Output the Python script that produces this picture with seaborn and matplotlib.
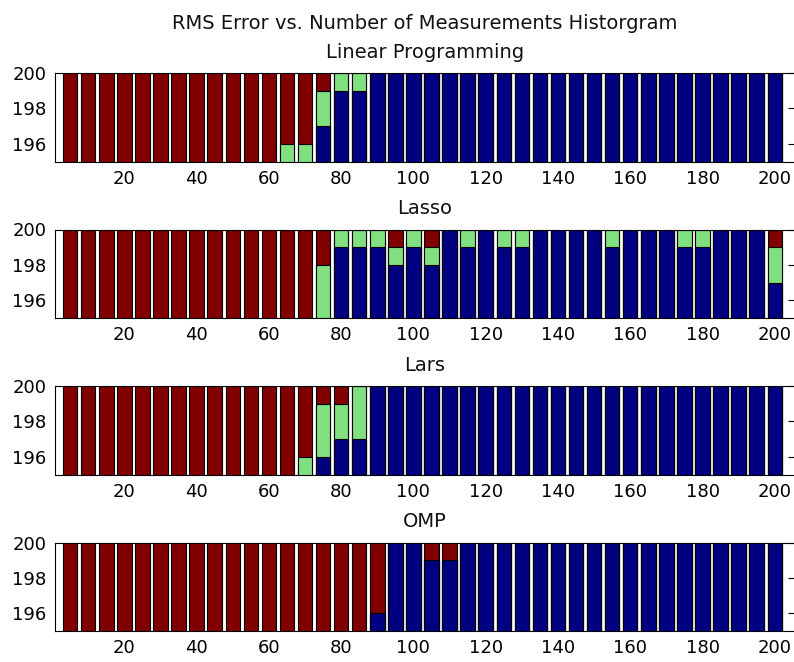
import numpy as np
import matplotlib
matplotlib.use("Agg")
import matplotlib.pyplot as plt
import seaborn as sns

# Number of measurements (bar positions)
measurements = list(range(5, 205, 5))

# Per-method counts of trials in each RMS error class (low / medium / high)
lp_low = [0, 0, 0, 0, 0, 0, 0, 0, 0, 0, 0, 0, 0, 0, 197, 199, 199,
          200, 200, 200, 200, 200, 200, 200, 200, 200, 200, 200, 200,
          200, 200, 200, 200, 200, 200, 200, 200, 200, 200, 200]
lp_mid = [0, 0, 0, 0, 0, 0, 0, 0, 0, 0, 0, 0, 196, 196, 2, 1, 1,
          0, 0, 0, 0, 0, 0, 0, 0, 0, 0, 0, 0,
          0, 0, 0, 0, 0, 0, 0, 0, 0, 0, 0]
lp_high = [200, 200, 200, 200, 200, 200, 200, 200, 200, 200, 200, 200, 4, 4, 1, 0, 0,
           0, 0, 0, 0, 0, 0, 0, 0, 0, 0, 0, 0,
           0, 0, 0, 0, 0, 0, 0, 0, 0, 0, 0]

lasso_low = [0, 0, 0, 0, 0, 0, 0, 0, 0, 0, 0, 0, 0, 0, 0, 199, 199, 199, 198, 199,
             198, 200, 199, 200, 199, 199, 200, 200, 200, 200, 199, 200,
             200, 200, 199, 199, 200, 200, 200, 197]
lasso_mid = [0, 0, 0, 0, 0, 0, 0, 0, 0, 0, 0, 0, 0, 0, 198, 1, 1, 1, 1, 1,
             1, 0, 1, 0, 1, 1, 0, 0, 0, 0, 1, 0,
             0, 0, 1, 1, 0, 0, 0, 2]
lasso_high = [200, 200, 200, 200, 200, 200, 200, 200, 200, 200, 200, 200, 200, 200, 2, 0, 0, 0, 1, 0,
              1, 0, 0, 0, 0, 0, 0, 0, 0, 0, 0, 0,
              0, 0, 0, 0, 0, 0, 0, 1]

lars_low = [0, 0, 0, 0, 0, 0, 0, 0, 0, 0, 0, 0, 0, 0, 196, 197, 197,
            200, 200, 200, 200, 200, 200, 200, 200, 200, 200, 200, 200,
            200, 200, 200, 200, 200, 200, 200, 200, 200, 200, 200]
lars_mid = [0, 0, 0, 0, 0, 0, 0, 0, 0, 0, 0, 0, 0, 196, 3, 2, 3,
            0, 0, 0, 0, 0, 0, 0, 0, 0, 0, 0, 0,
            0, 0, 0, 0, 0, 0, 0, 0, 0, 0, 0]
lars_high = [200, 200, 200, 200, 200, 200, 200, 200, 200, 200, 200, 200, 200, 4, 1, 1, 0,
             0, 0, 0, 0, 0, 0, 0, 0, 0, 0, 0, 0,
             0, 0, 0, 0, 0, 0, 0, 0, 0, 0, 0]

omp_low = [0, 0, 0, 0, 0, 0, 0, 0, 0, 0, 0, 0, 0, 0, 0, 0, 0, 196,
           200, 200, 199, 199, 200, 200, 200, 200, 200, 200, 200, 200,
           200, 200, 200, 200, 200, 200, 200, 200, 200, 200]
omp_mid = [0] * 40
omp_high = [200, 200, 200, 200, 200, 200, 200, 200, 200, 200, 200, 200, 200, 200, 200, 200, 200, 4,
            0, 0, 1, 1, 0, 0, 0, 0, 0, 0, 0, 0,
            0, 0, 0, 0, 0, 0, 0, 0, 0, 0]

titles = ["RMS Error vs. Number of Measurements Historgram\nLinear Programming",
          "Lasso", "Lars", "OMP"]
methods = [(lp_low, lp_mid, lp_high), (lasso_low, lasso_mid, lasso_high),
           (lars_low, lars_mid, lars_high), (omp_low, omp_mid, omp_high)]

x_ticks = [20, 40, 60, 80, 100, 120, 140, 160, 180, 200]
y_ticks = [196, 198, 200]

col_low = "#000080"
col_mid = "#80E080"
col_high = "#800000"

sns.set_style("white")
plt.rcParams["font.family"] = ["DejaVu Sans"]

W, H = 794, 662
fig = plt.figure(figsize=(W / 100, H / 100), dpi=100)

left_px, width_px, height_px = 55, 740, 88.5
tops_px = [73, 229.5, 386, 542.5]

for top, title, (low, mid, high) in zip(tops_px, titles, methods):
    ax = fig.add_axes([left_px / W, 1 - (top + height_px) / H, width_px / W, height_px / H])
    low = np.array(low)
    mid = np.array(mid)
    high = np.array(high)
    # stacked segments: draw cumulative totals from the top down
    for heights, col in [(low + mid + high, col_high), (low + mid, col_mid), (low, col_low)]:
        sns.barplot(x=measurements, y=heights, native_scale=True, color=col,
                    saturation=1, width=0.8, edgecolor="black", linewidth=0.8,
                    errorbar=None, ax=ax)
    ax.set_xlim(0.8, 205.6)
    ax.set_ylim(195, 200)
    ax.set_xticks(x_ticks)
    ax.set_yticks(y_ticks)
    ax.set_xticklabels([str(t) for t in x_ticks])
    ax.set_yticklabels([str(t) for t in y_ticks])
    ax.set_xlabel("")
    ax.set_ylabel("")
    ax.tick_params(direction="in", length=5, width=0.8, top=True, right=True,
                   labelsize=13, colors="black", pad=6)
    for s in ax.spines.values():
        s.set_visible(True)
        s.set_color("black")
        s.set_linewidth(0.8)
    ax.set_title(title, fontsize=14, pad=11, color="#111111", linespacing=1.65)

fig.savefig("out.png", dpi=100, facecolor="white")
